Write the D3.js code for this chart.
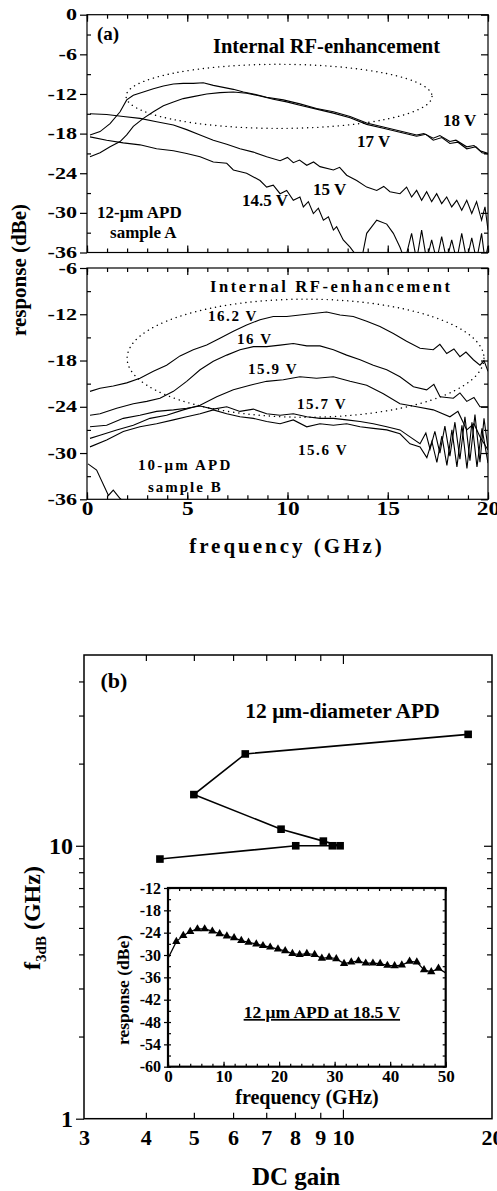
<!DOCTYPE html>
<html lang="en">
<head>
<meta charset="UTF-8">
<title>APD frequency response</title>
<style>
  body { margin: 0; background: #fff; }
  svg { display: block; }
  svg text { font-family: "Liberation Serif", "Times New Roman", serif; font-weight: bold; fill: #000; }
</style>
</head>
<body>
<svg id="chart" width="497" height="1191"></svg>
<script src="https://cdn.jsdelivr.net/npm/d3@7"></script>
<script>
// ---- panel (a), upper: 12-um APD sample A  [GHz, dBe]
const a18 = [[0.15,-18.2],[0.65,-17.7],[1.15,-16.5],[1.65,-14.7],[1.98,-12.9],[2.31,-12.2],[2.81,-11.7],[3.31,-11.2],[3.81,-10.8],[4.31,-10.5],[4.8,-10.4],[5.3,-10.4],[5.8,-10.3],[6.3,-10.7],[6.8,-11.0],[7.3,-11.3],[7.8,-11.7],[8.3,-12.0],[8.96,-12.5],[9.79,-12.9],[10.62,-13.5],[11.45,-14.2],[12.29,-14.7],[13.12,-15.4],[13.95,-16.4],[14.78,-17.0],[15.61,-17.6],[16.44,-18.2],[16.8,-18.0],[17.27,-18.7],[17.6,-18.3],[18.1,-19.2],[18.4,-19.0],[18.94,-20.0],[19.3,-19.8],[19.6,-20.6],[20,-21.0]];
const a17 = [[0.15,-21.5],[0.65,-20.9],[1.15,-20.0],[1.65,-19.2],[1.98,-18.2],[2.31,-16.9],[2.81,-15.7],[3.31,-14.7],[3.81,-13.8],[4.31,-13.2],[4.8,-12.7],[5.3,-12.4],[5.97,-12.0],[6.63,-11.8],[7.3,-11.7],[7.96,-11.9],[8.63,-12.3],[9.29,-12.8],[9.96,-13.2],[10.62,-13.7],[11.45,-14.3],[12.29,-14.9],[13.12,-15.6],[13.95,-16.6],[14.78,-17.2],[15.61,-17.8],[16.44,-18.4],[16.9,-18.1],[17.27,-19.0],[17.7,-18.6],[18.1,-19.5],[18.5,-19.3],[18.94,-20.3],[19.4,-20.0],[19.7,-20.9],[20,-21.1]];
const a15 = [[0.15,-15.0],[0.98,-15.1],[1.81,-15.4],[2.64,-15.7],[3.47,-16.2],[4.31,-16.7],[4.97,-17.4],[5.64,-18.2],[6.3,-19.0],[6.97,-19.6],[7.63,-20.3],[8.3,-20.8],[8.96,-21.5],[9.63,-22.1],[10.0,-21.6],[10.29,-22.4],[10.6,-22.0],[10.96,-22.8],[11.3,-22.3],[11.62,-23.0],[12.29,-23.5],[12.6,-23.1],[12.95,-24.3],[13.45,-25.1],[13.95,-26.1],[14.45,-26.6],[14.8,-26.0],[15.11,-26.8],[15.61,-27.1],[15.94,-26.1],[16.19,-27.6],[16.44,-26.6],[16.69,-28.1],[16.94,-26.8],[17.19,-28.3],[17.44,-27.1],[17.69,-28.6],[17.94,-27.6],[18.19,-29.1],[18.44,-28.1],[18.69,-29.6],[18.94,-28.1],[19.19,-30.1],[19.43,-28.3],[19.68,-31.1],[19.85,-29.1],[20,-32.6]];
const a145 = [[0.15,-18.5],[0.98,-19.0],[1.81,-19.4],[2.64,-19.7],[3.47,-20.3],[4.31,-20.6],[4.97,-21.0],[5.64,-21.5],[6.3,-22.3],[6.97,-22.5],[7.3,-23.5],[7.96,-24.0],[8.63,-25.1],[8.96,-26.1],[9.29,-25.8],[9.63,-27.1],[9.96,-26.6],[10.29,-28.1],[10.62,-27.6],[10.79,-29.1],[11.04,-28.3],[11.29,-30.1],[11.54,-29.3],[11.79,-31.1],[12.04,-30.6],[12.29,-32.6],[12.45,-32.1],[12.78,-34.1],[13.12,-35.2],[13.37,-36.2],[13.62,-38.2],[13.95,-33.1],[14.45,-31.1],[14.95,-31.7],[15.28,-33.1],[15.61,-35.2],[15.86,-37.2],[16.19,-33.1],[16.44,-37.2],[16.69,-32.6],[16.94,-37.2],[17.19,-34.1],[17.44,-37.2],[17.69,-33.6],[17.94,-37.2],[18.19,-34.1],[18.44,-37.2],[18.69,-33.1],[18.94,-37.2],[19.19,-33.8],[19.43,-37.2],[19.68,-33.1],[19.85,-37.2],[20,-35.0]];

// ---- panel (a), lower: 10-um APD sample B
const b162 = [[0.15,-22.0],[0.65,-21.6],[1.31,-21.3],[1.98,-20.9],[2.64,-20.3],[3.31,-19.4],[3.97,-18.6],[4.64,-17.4],[5.3,-16.6],[5.97,-16.0],[6.63,-15.1],[7.3,-14.2],[7.96,-13.4],[8.63,-12.7],[9.29,-12.3],[9.96,-12.3],[10.62,-12.1],[11.29,-11.9],[11.95,-11.7],[12.62,-12.1],[13.28,-12.3],[13.95,-12.9],[14.61,-13.6],[15.28,-14.5],[15.94,-15.5],[16.61,-16.4],[17.27,-16.6],[17.6,-15.9],[17.94,-17.1],[18.3,-16.5],[18.6,-17.5],[18.9,-16.9],[19.27,-17.9],[19.6,-18.6],[19.8,-18.0],[20,-19.4]];
const b16 = [[0.15,-25.1],[0.65,-24.9],[1.48,-24.2],[2.31,-23.6],[2.98,-23.3],[3.64,-22.9],[4.31,-22.0],[4.97,-20.7],[5.64,-19.2],[6.3,-18.1],[6.97,-17.3],[7.63,-16.6],[8.3,-16.2],[8.96,-16.2],[9.63,-16.0],[10.29,-15.8],[10.96,-16.1],[11.62,-16.1],[12.29,-16.6],[12.95,-17.3],[13.62,-17.9],[14.28,-18.6],[14.95,-19.2],[15.61,-20.1],[16.28,-21.4],[16.94,-21.8],[17.3,-21.1],[17.61,-22.7],[18.27,-22.9],[18.6,-22.2],[18.94,-23.3],[19.3,-22.8],[19.6,-24.0],[20,-24.0]];
const b159 = [[0.15,-28.1],[0.65,-27.7],[1.48,-27.0],[2.31,-26.4],[3.14,-25.5],[3.97,-25.1],[4.8,-24.4],[5.64,-23.8],[6.47,-22.7],[7.3,-21.8],[8.13,-21.2],[8.96,-20.7],[9.79,-20.5],[10.62,-20.1],[11.45,-20.3],[12.29,-20.1],[13.12,-20.7],[13.95,-21.2],[14.78,-22.3],[15.61,-23.6],[16.44,-24.0],[17.27,-24.4],[18.1,-25.3],[18.5,-24.6],[18.94,-27.0],[19.3,-26.2],[19.6,-27.9],[20,-29.6]];
const b157 = [[0.15,-26.6],[0.98,-26.4],[1.81,-25.5],[2.64,-25.1],[3.47,-24.6],[4.31,-24.4],[4.97,-24.2],[5.64,-23.9],[6.3,-24.3],[6.97,-24.0],[7.63,-24.6],[8.3,-24.3],[8.96,-24.9],[9.63,-25.1],[10.29,-24.9],[10.96,-25.3],[11.62,-25.5],[12.29,-25.5],[12.95,-25.7],[13.62,-25.9],[14.28,-26.2],[14.95,-26.6],[15.61,-27.0],[16.11,-27.9],[16.61,-28.8],[16.9,-27.4],[17.11,-29.5],[17.35,-27.2],[17.6,-30.0],[17.85,-26.5],[18.1,-30.4],[18.35,-26.0],[18.6,-30.8],[18.85,-25.3],[19.1,-31.0],[19.35,-25.0],[19.6,-31.2],[19.8,-25.5],[20,-29.4]];
const b156 = [[0.15,-29.2],[0.98,-28.3],[1.81,-27.2],[2.64,-26.6],[3.47,-26.2],[4.31,-25.7],[4.97,-25.3],[5.64,-24.9],[6.3,-24.4],[6.97,-24.9],[7.63,-25.3],[8.3,-25.5],[8.96,-25.9],[9.63,-26.2],[10.29,-25.7],[10.96,-26.6],[11.62,-26.2],[12.29,-26.4],[12.95,-26.2],[13.62,-26.6],[14.28,-26.8],[14.95,-27.0],[15.61,-27.5],[16.11,-28.8],[16.61,-29.2],[16.95,-30.6],[17.2,-28.5],[17.45,-31.2],[17.7,-27.8],[17.95,-31.6],[18.2,-27.0],[18.45,-31.8],[18.7,-26.4],[18.95,-32.0],[19.2,-26.0],[19.45,-31.8],[19.7,-26.8],[20,-31.3]];
const bDrop = [[0.05,-31.4],[0.48,-32.2],[1.07,-35.5],[1.31,-34.8],[1.65,-35.9],[1.9,-36.5]];

// ---- panel (b): f3dB vs DC gain (order as connected)
const dcGain = [4.27, 8.03, 9.52, 9.87, 9.13, 7.50, 5.00, 6.35, 17.9];
const f3dB   = [8.94, 10.0, 10.0, 10.0, 10.4, 11.5, 15.4, 21.7, 25.6];

// ---- inset: 12 um APD at 18.5 V
const insetFreq = [0, 1.5, 2.75, 4.0, 5.3, 6.6, 7.98, 9.3, 10.6, 11.9, 13.2, 14.5, 15.9, 17.1, 18.4, 19.8, 21.1, 22.4, 23.7, 25.0, 26.4, 27.7, 29.0, 30.3, 31.7, 33.0, 34.3, 35.6, 36.9, 38.2, 39.5, 40.8, 42.1, 43.5, 44.8, 46.1, 47.4, 48.7, 50];
const insetResp = [-30.9, -26.4, -24.8, -23.7, -23.0, -23.0, -23.6, -24.3, -24.9, -25.4, -26.1, -26.6, -27.05, -27.5, -27.9, -28.4, -28.9, -29.6, -29.9, -29.6, -29.9, -30.9, -30.6, -31.0, -32.3, -31.9, -31.6, -32.2, -32.2, -32.3, -32.8, -32.9, -32.7, -31.7, -31.9, -34.0, -34.5, -33.6, -34.8];

const svg = d3.select("#chart");

// scales
const fx = d3.scaleLinear([0, 20], [87, 488]);
const yTop = d3.scaleLinear([-36, 0], [252.5, 14.7]);
const yBot = d3.scaleLinear([-36, -6], [499.3, 268]);
const gx = d3.scaleLog([3, 20], [84, 492]);
const gy = d3.scaleLog([1, 50], [1118.7, 655]);
const ix = d3.scaleLinear([0, 50], [168, 445.7]);
const iy = d3.scaleLinear([-60, -12], [1066.7, 888]);

// widen glyphs like the scanned figure
function stretch(sel, k) {
  sel.each(function () {
    const L = this.getComputedTextLength();
    d3.select(this).attr("textLength", L * k).attr("lengthAdjust", "spacingAndGlyphs");
  });
}

function tickSet(g, axisFn, scale, vals, size, tr, fmt, fs) {
  const a = g.append("g").attr("transform", tr)
    .call(axisFn(scale).tickValues(vals).tickSize(size).tickPadding(3).tickFormat(fmt || (() => "")));
  a.select(".domain").remove();
  a.selectAll("line").attr("stroke", "#000").attr("stroke-width", 1.2);
  a.selectAll("text").style("font-size", (fs || 16) + "px");
  return a;
}

function box(g, x, y, sw) {
  const [x0, x1] = x.range(), [y0, y1] = y.range();
  g.append("rect").attr("x", x0).attr("y", Math.min(y0, y1))
    .attr("width", x1 - x0).attr("height", Math.abs(y0 - y1))
    .attr("fill", "none").attr("stroke", "#000").attr("stroke-width", sw || 1.2);
}

function label(g, str, x, y, fs, opts) {
  opts = opts || {};
  const t = g.append("text").attr("x", x).attr("y", y).style("font-size", fs + "px")
    .attr("text-anchor", opts.anchor || "start").text(str);
  if (opts.ls) t.style("letter-spacing", opts.ls + "px");
  if (opts.rot) t.attr("transform", `rotate(-90,${x},${y})`);
  return t;
}

// ---------- panel (a)
const pa = svg.append("g");
const fMinor = d3.range(0, 21, 1), fMajor = [0, 5, 10, 15, 20];

function panelA(y, majors, minors, clipId) {
  const [yb, yt] = y.range();
  tickSet(pa, d3.axisBottom, fx, fMinor, -4, `translate(0,${yb})`);
  tickSet(pa, d3.axisBottom, fx, fMajor, -7, `translate(0,${yb})`);
  tickSet(pa, d3.axisTop, fx, fMinor, -4, `translate(0,${yt})`);
  tickSet(pa, d3.axisTop, fx, fMajor, -7, `translate(0,${yt})`);
  tickSet(pa, d3.axisLeft, y, minors, -4, `translate(87,0)`);
  const lab = tickSet(pa, d3.axisLeft, y, majors, 7, `translate(87,0)`, d => d, 16);
  stretch(lab.selectAll("text"), 1.38);
  tickSet(pa, d3.axisRight, y, minors, -4, `translate(488,0)`);
  tickSet(pa, d3.axisRight, y, majors, -7, `translate(488,0)`);
  box(pa, fx, y);
  pa.append("clipPath").attr("id", clipId).append("rect")
    .attr("x", 87).attr("y", yt).attr("width", 401).attr("height", yb - yt);
}

panelA(yTop, [0, -6, -12, -18, -24, -30, -36], d3.range(-33, 0, 6), "clipTop");
panelA(yBot, [-6, -12, -18, -24, -30, -36], d3.range(-33, -6, 6), "clipBot");

// bottom x labels
const fLab = tickSet(pa, d3.axisBottom, fx, fMajor, 0, `translate(0,499.3)`, d => d, 18);
stretch(fLab.selectAll("text"), 1.3);

const lineTop = d3.line().x(d => fx(d[0])).y(d => yTop(d[1]));
const lineBot = d3.line().x(d => fx(d[0])).y(d => yBot(d[1]));

pa.append("g").attr("clip-path", "url(#clipTop)")
  .selectAll("path").data([a18, a17, a15, a145]).join("path")
  .attr("d", lineTop).attr("fill", "none").attr("stroke", "#000").attr("stroke-width", 1.1);
pa.append("g").attr("clip-path", "url(#clipBot)")
  .selectAll("path").data([b162, b16, b159, b157, b156, bDrop]).join("path")
  .attr("d", lineBot).attr("fill", "none").attr("stroke", "#000").attr("stroke-width", 1.1);

// dotted ellipses
function ellipse(y, cf, cd, rf, rd) {
  pa.append("ellipse").attr("cx", fx(cf)).attr("cy", y(cd))
    .attr("rx", fx(rf) - fx(0)).attr("ry", y(cd - rd) - y(cd))
    .attr("fill", "none").attr("stroke", "#000").attr("stroke-width", 1.4)
    .attr("stroke-dasharray", "0.1 5").attr("stroke-linecap", "round");
}
ellipse(yTop, 9.58, -12.36, 7.63, 4.85);
ellipse(yBot, 10.9, -17.7, 8.9, 7.66);

// annotations upper
label(pa, "(a)", fx(0.5), yTop(-3.83), 19);
label(pa, "Internal RF-enhancement", fx(6.28), yTop(-5.8), 20.5);
label(pa, "18 V", fx(17.76), yTop(-16.9), 17);
label(pa, "17 V", fx(13.47), yTop(-20.0), 17);
label(pa, "15 V", fx(11.27), yTop(-27.3), 17);
label(pa, "14.5 V", fx(7.73), yTop(-29.0), 17);
label(pa, "12-\u03bcm APD", fx(0.5), yTop(-30.8), 17);
label(pa, "sample A", fx(1.15), yTop(-33.8), 17);
// annotations lower
label(pa, "Internal RF-enhancement", fx(6.13), yBot(-9.08), 16.5, {ls: 2.6});
label(pa, "16.2 V", fx(6.03), yBot(-12.84), 15, {ls: 1.6});
label(pa, "16 V", fx(7.48), yBot(-15.8), 15, {ls: 1.6});
label(pa, "15.9 V", fx(8.03), yBot(-19.8), 15, {ls: 1.6});
label(pa, "15.7 V", fx(10.47), yBot(-24.35), 15, {ls: 1.6});
label(pa, "15.6 V", fx(10.52), yBot(-30.3), 15, {ls: 1.6});
label(pa, "10-\u03bcm APD", fx(2.54), yBot(-32.2), 15, {ls: 2.2});
label(pa, "sample B", fx(3.04), yBot(-35.0), 15, {ls: 2});

label(pa, "frequency (GHz)", 287, 553, 21, {anchor: "middle", ls: 3});
label(pa, "response (dBe)", 26, 270, 21, {anchor: "middle", rot: true});

// ---------- panel (b)
const pb = svg.append("g");
const gMinorX = [4, 5, 6, 7, 8, 9];
const gMinorY = [2, 3, 4, 5, 6, 7, 8, 9, 20, 30, 40];
const [gb, gt] = gy.range();
tickSet(pb, d3.axisBottom, gx, gMinorX, -6, `translate(0,${gb})`);
tickSet(pb, d3.axisBottom, gx, [10], -9, `translate(0,${gb})`);
tickSet(pb, d3.axisBottom, gx, [3, 4, 5, 6, 7, 8, 9, 10, 20], 0, `translate(0,${gb + 8})`, d => d, 22);
tickSet(pb, d3.axisTop, gx, gMinorX, -6, `translate(0,${gt})`);
tickSet(pb, d3.axisTop, gx, [10], -9, `translate(0,${gt})`);
tickSet(pb, d3.axisLeft, gy, gMinorY, 5, `translate(84,0)`);
tickSet(pb, d3.axisLeft, gy, [1, 10], 8, `translate(84,0)`, d => d, 24);
tickSet(pb, d3.axisRight, gy, gMinorY, -5, `translate(492,0)`);
tickSet(pb, d3.axisRight, gy, [10], -8, `translate(492,0)`);
box(pb, gx, gy, 1.5);

const gainPts = dcGain.map((g, i) => [g, f3dB[i]]);
pb.append("path").datum(gainPts)
  .attr("d", d3.line().x(d => gx(d[0])).y(d => gy(d[1])))
  .attr("fill", "none").attr("stroke", "#000").attr("stroke-width", 1.6);
pb.selectAll("rect.sq").data(gainPts).join("rect").attr("class", "sq")
  .attr("x", d => gx(d[0]) - 3.8).attr("y", d => gy(d[1]) - 3.8)
  .attr("width", 7.6).attr("height", 7.6).attr("fill", "#000");

label(pb, "(b)", gx(3.24), gy(38), 22);
label(pb, "12 \u03bcm-diameter APD", gx(6.35), gy(29.5), 21.5);
label(pb, "DC gain", 296, 1185, 25, {anchor: "middle"});
const fl = pb.append("text").attr("transform", "translate(40,918) rotate(-90)")
  .attr("text-anchor", "middle").style("font-size", "24px");
fl.append("tspan").text("f");
fl.append("tspan").attr("dy", 6).style("font-size", "15px").text("3dB");
fl.append("tspan").attr("dy", -6).text(" (GHz)");

// ---------- inset
const pi = svg.append("g");
pi.append("rect").attr("x", ix(0)).attr("y", iy(-12)).attr("width", ix(50) - ix(0))
  .attr("height", iy(-60) - iy(-12)).attr("fill", "#fff");
const [ib, it] = iy.range();
const iMinX = d3.range(0, 51, 2), iMajX = d3.range(0, 51, 10);
const iMinY = d3.range(-60, -11, 3), iMajY = d3.range(-60, -11, 6);
tickSet(pi, d3.axisBottom, ix, iMinX, -3, `translate(0,${ib})`);
tickSet(pi, d3.axisBottom, ix, iMajX, -5, `translate(0,${ib})`, d => d, 17);
tickSet(pi, d3.axisTop, ix, iMinX, -3, `translate(0,${it})`);
tickSet(pi, d3.axisLeft, iy, iMinY, -3, `translate(${ix(0)},0)`);
tickSet(pi, d3.axisLeft, iy, iMajY, 4, `translate(${ix(0)},0)`, d => d, 16);
tickSet(pi, d3.axisRight, iy, iMinY, -3, `translate(${ix(50)},0)`);
box(pi, ix, iy, 2.2);

const insetPts = insetFreq.map((f, i) => [f, insetResp[i]]);
pi.append("path").datum(insetPts)
  .attr("d", d3.line().x(d => ix(d[0])).y(d => iy(d[1])))
  .attr("fill", "none").attr("stroke", "#000").attr("stroke-width", 1.2);
pi.selectAll("path.tri").data(insetPts.slice(1, -1)).join("path").attr("class", "tri")
  .attr("transform", d => `translate(${ix(d[0])},${iy(d[1])})`)
  .attr("d", d3.symbol(d3.symbolTriangle, 30)).attr("fill", "#000");

const note = label(pi, "12 \u03bcm APD at 18.5 V", ix(27.7), iy(-46.9), 17.5, {anchor: "middle"});
note.style("text-decoration", "underline");
label(pi, "frequency (GHz)", 307, 1104, 20, {anchor: "middle"});
label(pi, "response (dBe)", 129, 990, 17.5, {anchor: "middle", rot: true});
</script>
</body>
</html>
